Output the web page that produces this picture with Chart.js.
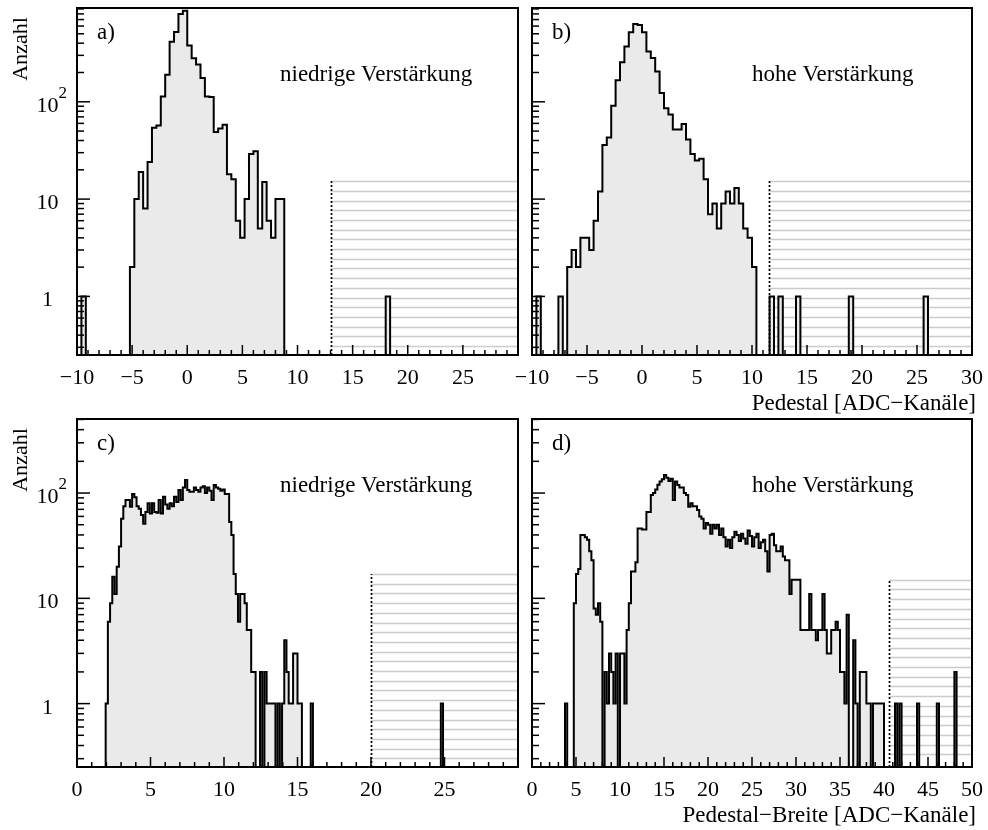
<!DOCTYPE html>
<html>
<head>
<meta charset="utf-8">
<script src="https://cdn.jsdelivr.net/npm/chart.js@4.4.1/dist/chart.umd.min.js"></script>
<style>
html, body { margin:0; padding:0; background:#fff; }
#wrap { position:relative; width:988px; height:830px; overflow:hidden; background:#fff; }
#wrap canvas { position:absolute; left:0; top:0; }
</style>
</head>
<body>
<div id="wrap">
<canvas id="pa" width="988" height="830"></canvas>
<canvas id="pb" width="988" height="830"></canvas>
<canvas id="pc" width="988" height="830"></canvas>
<canvas id="pd" width="988" height="830"></canvas>
</div>
<script>
// ---------------- data ----------------
// a) Pedestal, niedrige Verstärkung (bin width 0.4)
const aBinWidth = 0.4;
const aStart = -5.2;
const aCounts = [2,10,19,8,24,54,57,113,190,415,520,800,860,378,280,242,176,113,112,49,53,58,18,16,6,4,10,29,31,5,15,6,4,10,10];
const aIsoEdges = [-9.6, 18.0];
const aIsoCounts = [1, 1];

// b) Pedestal, hohe Verstärkung (bin width 0.4)
const bBinWidth = 0.4;
const bStart = -6.8;
const bCounts = [2,3,2,4,4,3,6,12,36,43, 91,166,255,369,518,630,615,518,328,281, 205,123,86,74,52,52,59,41,29,25, 26,16,7,9,5,9,12,9,13,9, 5,4,2];
const bIsoEdges = [-9.6, -7.6, 11.6, 12.4, 14.0, 18.8, 25.6];
const bIsoCounts = [1, 1, 1, 1, 1, 1, 1];

// c) Pedestal-Breite, niedrige Verstärkung (bin width 0.15)
const cBinWidth = 0.15;
const cStart = 1.95;
const cCounts = [1,6,9,16,11,20,31,57,75,86, 86,74,98,91,75,71,62,51,66,80, 64,80,66,65,86,64,92,78,71,80, 75,92,82,107,86,113,133,107,103,103, 113,107,103,113,116,100,113,105,86,119, 113,110,105,108,98,98,53,40,17,11, 6,11,11,9,5,5,2,2,0,0, 2,0,2,1,1,1,1,0,1,0, 1,4,2,1,1,3,3,1,1,0, 0,0,0,1];
const cIsoEdges = [24.75];
const cIsoCounts = [1];

// d) Pedestal-Breite, hohe Verstärkung (bin width 0.25)
const dBinWidth = 0.25;
const dStart = 3.75;
const dCounts = [1,0,0,0,9,17,19,40,40,38, 36,28,23,8,7,9,6,0,2,1, 3,2,1,3,0,3,3,1,5,9, 18,18,22,46,46,45,45,66,66,96, 100,108,120,129,135,148,140,130,137,86, 129,119,113,113,100,96,74,80,75,75, 69,60,57,46,52,50,41,50,46,50, 40,46,38,31,36,30,38,43,40,35, 41,37,33,44,39,31,38,41,30,34, 36,28,18,40,41,32,28,28,31,25, 23,23,11,15,15,15,15,5,5,5, 5,11,5,5,4,5,5,11,5,3, 3,5,5,6,5,2,2,1,7,0, 0,4,1,0,2,2,2,1,1,0, 1,1,1,1,1];
const dIsoEdges = [41.25, 41.75, 43.75, 46.0, 48.0];
const dIsoCounts = [1, 1, 1, 1, 2];

// axes
const xRangeTop = [-10, 30];
const xRangeC = [0, 30];
const xRangeD = [0, 50];
const yRangeTop = [0.25, 920];
const yRangeBottom = [0.25, 505];
const xTicksA = [-10, -5, 0, 5, 10, 15, 20, 25];
const xTicksB = [-10, -5, 0, 5, 10, 15, 20, 25, 30];
const xTicksC = [0, 5, 10, 15, 20, 25];
const xTicksD = [0, 5, 10, 15, 20, 25, 30, 35, 40, 45, 50];
const yLabelValues = [1, 10, 100];

// cut lines and the hatched (excluded) regions
const cutValues = [13.0, 11.5, 20.0, 40.6];
const hatchTops = [15.3, 15.3, 17, 15];

// texts
const panelTags = ['a)', 'b)', 'c)', 'd)'];
const panelNotes = ['niedrige Verstärkung', 'hohe Verstärkung', 'niedrige Verstärkung', 'hohe Verstärkung'];
const yTitle = 'Anzahl';
const xTitles = ['Pedestal [ADC\u2212Kanäle]', 'Pedestal\u2212Breite [ADC\u2212Kanäle]'];

// ---------------- helpers ----------------
const FONT = '"Liberation Serif", "Times New Roman", serif';
const FLOOR = 0.01; // empty bins drawn below the axis minimum

function histPoints(start, width, counts, isoEdges, isoCounts) {
  const bins = new Map();
  counts.forEach((c, i) => bins.set(Math.round(start / width) + i, c));
  isoEdges.forEach((e, j) => bins.set(Math.round(e / width), isoCounts[j]));
  const keys = [...bins.keys()].sort((p, q) => p - q);
  const kmin = keys[0], kmax = keys[keys.length - 1];
  const pts = [{ x: kmin * width, y: FLOOR }];
  for (let k = kmin; k <= kmax; k++) {
    const c = bins.get(k) || 0;
    pts.push({ x: k * width, y: c > 0 ? c : FLOOR });
  }
  pts.push({ x: (kmax + 1) * width, y: FLOOR });
  return pts;
}

function fmt(v) { return v < 0 ? '\u2212' + Math.abs(v) : String(v); }

function line(ctx, x1, y1, x2, y2) {
  ctx.beginPath(); ctx.moveTo(x1, y1); ctx.lineTo(x2, y2); ctx.stroke();
}

const rootStyle = {
  id: 'rootStyle',
  beforeDatasetsDraw(chart, args, o) {
    const { ctx, chartArea: ca } = chart;
    const xs = chart.scales.x, ys = chart.scales.y;
    const x0 = xs.getPixelForValue(o.cut);
    const yT = ys.getPixelForValue(o.hatchTop);
    ctx.save();
    ctx.beginPath(); ctx.rect(ca.left, ca.top, ca.right - ca.left, ca.bottom - ca.top); ctx.clip();
    ctx.strokeStyle = '#cbcbcb';
    ctx.lineWidth = 1.3;
    for (let y = yT; y < ca.bottom - 3; y += 9.7) {
      line(ctx, x0, Math.round(y) + 0.5, ca.right, Math.round(y) + 0.5);
    }
    ctx.restore();
  },
  afterDatasetsDraw(chart, args, o) {
    const { ctx, chartArea: ca } = chart;
    const xs = chart.scales.x, ys = chart.scales.y;
    ctx.save();
    ctx.strokeStyle = '#000';
    ctx.fillStyle = '#000';
    // dotted cut line
    const x0 = Math.round(xs.getPixelForValue(o.cut)) + 0.5;
    const yT = ys.getPixelForValue(o.hatchTop);
    ctx.setLineDash([2, 2]);
    ctx.lineWidth = 1.7;
    line(ctx, x0, ca.bottom, x0, yT);
    ctx.setLineDash([]);
    // frame
    ctx.lineWidth = 2;
    ctx.strokeRect(ca.left, ca.top, ca.right - ca.left, ca.bottom - ca.top);
    // x ticks (inward)
    ctx.lineWidth = 1.5;
    for (let v = Math.ceil(xs.min); v <= xs.max; v += 1) {
      const px = xs.getPixelForValue(v);
      const len = (v % 5 === 0) ? 10 : 5;
      line(ctx, px, ca.bottom, px, ca.bottom - len);
    }
    // y ticks (inward, log)
    for (let e = -1; e <= 3; e++) {
      for (let m = 1; m <= 9; m++) {
        const v = m * Math.pow(10, e);
        if (v < ys.min || v > ys.max) continue;
        const py = ys.getPixelForValue(v);
        line(ctx, ca.left, py, ca.left + (m === 1 ? 13 : 7), py);
      }
    }
    // x tick labels
    ctx.font = '22px ' + FONT;
    ctx.textAlign = 'center';
    ctx.textBaseline = 'alphabetic';
    o.xTicks.forEach(v => ctx.fillText(fmt(v), xs.getPixelForValue(v), ca.bottom + 29));
    // y tick labels
    if (o.yLabels) {
      const cx = ca.left - 29.5;
      yLabelValues.forEach(v => {
        const py = ys.getPixelForValue(v);
        ctx.font = '22px ' + FONT;
        ctx.textAlign = 'center';
        if (v === 100) {
          ctx.fillText('10', cx, py + 10);
          const w = ctx.measureText('10').width;
          ctx.font = '17px ' + FONT;
          ctx.textAlign = 'left';
          ctx.fillText('2', cx + w / 2, py - 4);
        } else {
          ctx.fillText(String(v), cx, py + 10);
        }
      });
      // y title
      ctx.save();
      ctx.font = '22px ' + FONT;
      ctx.textAlign = 'center';
      ctx.translate(ca.left - 50, ca.top + 41);
      ctx.rotate(-Math.PI / 2);
      ctx.fillText(yTitle, 0, 0);
      ctx.restore();
    }
    // tag and note
    ctx.font = '23px ' + FONT;
    ctx.textAlign = 'left';
    ctx.fillText(o.tag, ca.left + 20, ca.top + 31);
    ctx.fillText(o.note, ca.left + o.noteDx, ca.top + 73);
    // x title
    if (o.xTitle) {
      ctx.textAlign = 'right';
      ctx.fillText(o.xTitle, 976, ca.bottom + 55);
    }
    ctx.restore();
  }
};

function makePanel(id, pad, xr, yr, pts, opts) {
  return new Chart(document.getElementById(id), {
    type: 'line',
    data: {
      datasets: [{
        data: pts,
        stepped: true,
        borderColor: '#000',
        borderWidth: 2,
        borderJoinStyle: 'miter',
        backgroundColor: '#eaeaea',
        fill: 'start',
        pointRadius: 0,
        tension: 0
      }]
    },
    options: {
      responsive: false,
      animation: false,
      devicePixelRatio: 1,
      events: [],
      layout: { padding: pad },
      plugins: { legend: { display: false }, tooltip: { enabled: false }, rootStyle: opts },
      scales: {
        x: { type: 'linear', min: xr[0], max: xr[1], display: false },
        y: { type: 'logarithmic', min: yr[0], max: yr[1], display: false }
      }
    },
    plugins: [rootStyle]
  });
}

makePanel('pa', { left: 77, top: 8, right: 988 - 518, bottom: 830 - 355 }, xRangeTop, yRangeTop,
  histPoints(aStart, aBinWidth, aCounts, aIsoEdges, aIsoCounts),
  { cut: cutValues[0], hatchTop: hatchTops[0], xTicks: xTicksA, yLabels: true, tag: panelTags[0], note: panelNotes[0], noteDx: 203, xTitle: null });

makePanel('pb', { left: 532, top: 8, right: 988 - 972, bottom: 830 - 355 }, xRangeTop, yRangeTop,
  histPoints(bStart, bBinWidth, bCounts, bIsoEdges, bIsoCounts),
  { cut: cutValues[1], hatchTop: hatchTops[1], xTicks: xTicksB, yLabels: false, tag: panelTags[1], note: panelNotes[1], noteDx: 220, xTitle: xTitles[0] });

makePanel('pc', { left: 77, top: 419, right: 988 - 518, bottom: 830 - 767 }, xRangeC, yRangeBottom,
  histPoints(cStart, cBinWidth, cCounts, cIsoEdges, cIsoCounts),
  { cut: cutValues[2], hatchTop: hatchTops[2], xTicks: xTicksC, yLabels: true, tag: panelTags[2], note: panelNotes[2], noteDx: 203, xTitle: null });

makePanel('pd', { left: 532, top: 419, right: 988 - 972, bottom: 830 - 767 }, xRangeD, yRangeBottom,
  histPoints(dStart, dBinWidth, dCounts, dIsoEdges, dIsoCounts),
  { cut: cutValues[3], hatchTop: hatchTops[3], xTicks: xTicksD, yLabels: false, tag: panelTags[3], note: panelNotes[3], noteDx: 220, xTitle: xTitles[1] });
</script>
</body>
</html>
